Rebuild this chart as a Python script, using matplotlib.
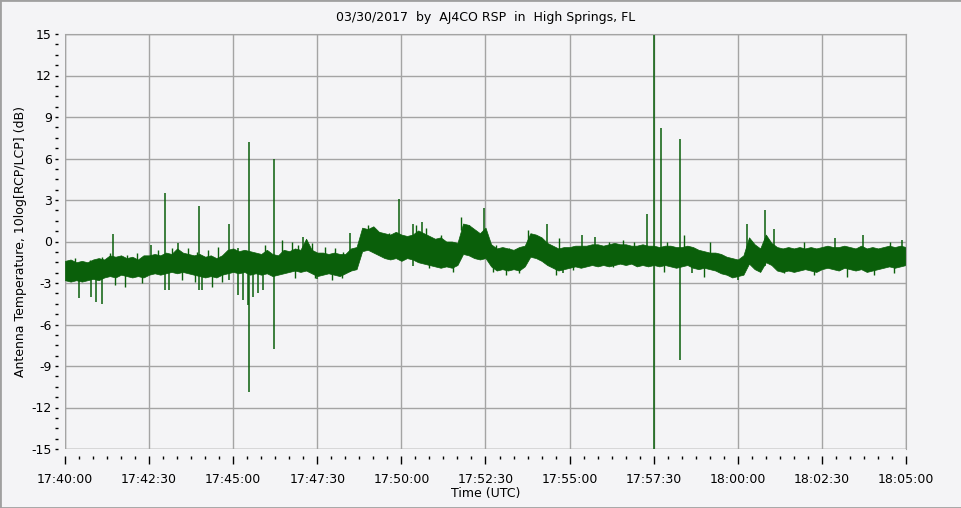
import numpy as np
import matplotlib
matplotlib.use("Agg")
import matplotlib.pyplot as plt
from matplotlib.patches import Rectangle
from matplotlib.ticker import MultipleLocator

plt.rcParams['axes.unicode_minus'] = False
plt.rcParams['font.family'] = 'DejaVu Sans'

# seconds after 17:40:00 UTC, one envelope sample every 10 s
t_env = np.arange(0, 1501, 10)

band_hi = [-1.4, -1.3, -1.5, -1.4, -1.5, -1.3, -1.2, -1.3, -1.0, -1.1,
           -1.0, -1.2, -1.1, -1.3, -1.0, -1.0, -0.9, -1.0, -0.8, -0.9,
           -0.5, -0.8, -0.9, -1.0, -0.9, -1.1, -1.0, -1.2, -1.0, -0.6,
           -0.5, -0.7, -0.6, -0.7, -0.8, -0.9, -0.6, -0.9, -1.0, -0.6,
           -0.7, -0.5, -0.6, 0.2, -0.6, -0.8, -0.8, -0.9, -0.8, -0.9,
           -0.9, -0.5, -0.4, 1.0, 0.9, 1.1, 0.7, 0.6, 0.5, 0.7,
           0.5, 0.4, 0.5, 0.8, 0.6, 0.4, 0.2, 0.3, 0.0, 0.0,
           -0.1, 1.3, 1.2, 0.9, 0.6, 1.0, -0.2, -0.5, -0.4, -0.5,
           -0.6, -0.4, -0.3, 0.6, 0.5, 0.3, -0.1, -0.3, -0.5, -0.4,
           -0.4, -0.3, -0.3, -0.3, -0.2, -0.2, -0.3, -0.2, -0.1, -0.2,
           -0.2, -0.3, -0.3, -0.2, -0.3, -0.3, -0.4, -0.3, -0.3, -0.4,
           -0.4, -0.3, -0.4, -0.6, -0.7, -0.8, -0.8, -0.9, -1.1, -1.2,
           -1.3, -1.0, 0.3, -0.2, -0.5, 0.5, -0.1, -0.4, -0.5, -0.4,
           -0.5, -0.4, -0.5, -0.4, -0.5, -0.4, -0.3, -0.4, -0.4, -0.3,
           -0.4, -0.5, -0.3, -0.5, -0.4, -0.5, -0.4, -0.3, -0.4, -0.3,
           -0.4]

band_lo = [-2.8, -2.9, -2.8, -2.9, -2.8, -2.7, -2.8, -2.6, -2.5, -2.6,
           -2.4, -2.5, -2.6, -2.5, -2.6, -2.4, -2.3, -2.4, -2.3, -2.2,
           -2.3, -2.2, -2.3, -2.4, -2.5, -2.6, -2.5, -2.6, -2.4, -2.3,
           -2.2, -2.3, -2.2, -2.4, -2.3, -2.4, -2.3, -2.5, -2.4, -2.3,
           -2.2, -2.1, -2.2, -2.1, -2.3, -2.5, -2.4, -2.3, -2.4, -2.5,
           -2.3, -2.1, -2.0, -0.7, -0.6, -0.8, -1.0, -1.2, -1.3, -1.2,
           -1.4, -1.2, -1.3, -1.5, -1.6, -1.7, -1.8, -1.9, -1.8, -1.9,
           -1.7, -0.9, -1.0, -1.2, -1.3, -1.2, -1.8, -2.1, -2.0, -2.1,
           -2.0, -2.1, -1.8, -1.1, -1.2, -1.4, -1.7, -1.9, -2.1, -2.0,
           -1.9, -1.8, -1.9, -1.8, -1.7, -1.8, -1.7, -1.8, -1.7, -1.6,
           -1.7, -1.6, -1.8, -1.7, -1.8, -1.7, -1.8, -1.7, -1.8, -1.9,
           -1.8, -1.7, -1.9, -2.0, -1.9, -2.0, -2.1, -2.3, -2.4, -2.6,
           -2.5, -2.4, -1.6, -2.0, -2.2, -1.5, -1.7, -2.1, -2.2, -2.1,
           -2.2, -2.1, -2.0, -2.1, -2.2, -2.0, -1.9, -2.0, -2.1, -1.9,
           -2.0, -2.1, -2.0, -2.2, -2.1, -2.0, -1.9, -1.8, -1.9, -1.8,
           -1.7]

# single-sample spikes: time (s), top (dB), bottom (dB)
spike_t = [25.5, 45.8, 55.3, 65.4, 85, 152.8, 178.5, 186, 202, 239.7,
           243.8, 293, 309, 318, 327, 328.7, 336, 345, 354, 372.8,
           425, 449, 508, 595, 621, 636, 748, 860, 888, 921.5,
           945, 1038, 1050.5, 1063, 1097, 1118, 1201, 1217, 1248.7, 1265,
           1373, 1422.6, 1492]
spike_hi = [-1.6, -1.6, -1.6, -1.6, 0.54, -0.25, 3.5, -1.5, -0.1, 2.57,
            -1.5, 1.27, -0.5, -1.4, -1.4, 7.17, -1.4, -1.4, -1.4, 5.94,
            0.35, -1.5, 0.6, 3.05, 1.3, 1.43, 2.4, 1.3, -1.2, 0.5,
            0.35, 2.0, 15.0, 8.2, 7.4, -1.0, -1.5, 1.3, 2.3, 0.9,
            0.23, 0.5, 0.1]
spike_lo = [-4.1, -4.0, -4.4, -4.5, -2.5, -2.0, -3.5, -3.5, -2.0, -3.5,
            -3.5, -2.8, -3.9, -4.2, -4.6, -10.9, -4.0, -3.7, -3.5, -7.8,
            -2.0, -2.7, -2.2, -1.0, -1.8, -1.0, -1.3, -1.5, -2.3, -1.5,
            -1.5, -1.5, -15.0, -1.5, -8.6, -2.3, -2.8, -1.5, -1.8, -1.8,
            -1.8, -1.8, -1.8]

# smaller noise teeth along the band edges
tooth_t = [17.8, 44.6, 65.4, 80.3, 110, 127.8, 166.5, 190.2, 220, 234.8,
           255.6, 273.5, 356.7, 386.4, 404.3, 416.2, 440, 463.7, 481.5, 496.4,
           539.8, 560.7, 578.5, 626, 643.9, 670.6, 706.3, 721.2, 768.7, 792.5,
           825.2, 881.7, 970.8, 994.6, 1014.2, 1073.6, 1103.4, 1150.9, 1317.4,
           1472,
           89.2, 107, 136.7, 208, 231.9, 261.6, 279.4, 410.2, 445.9, 475.6,
           493.4, 519, 649.8, 691.4, 762.8, 786.6, 810.3, 875.7, 905.5, 976.8,
           1067.7, 1139, 1281.7, 1335.2, 1394.7, 1442.2, 1477.9]
tooth_hi = [-1.22, -1.34, -1.1, -0.86, -0.98, -0.86, -0.61, -0.5, -0.5, -0.73,
            -0.61, -0.37, -0.25, 0.11, -0.01, -0.25, -0.13, -0.37, -0.5, -0.73,
            1.19, 0.71, 0.59, 1.19, 0.95, 0.47, 1.8, 1.19, -0.25, -0.49,
            0.83, 0.23, 0.0, 0.11, -0.01, -0.01, 0.47, -0.01, -0.01,
            -0.01,
            -2.15, -2.27, -2.03, -1.78, -1.9, -2.27, -1.9, -1.66, -1.66, -1.78,
            -1.66, -0.94, -0.94, -1.18, -1.18, -1.42, -1.3, -1.42, -1.06, -0.82,
            -1.18, -1.54, -1.3, -1.42, -1.54, -1.42, -1.3]
tooth_lo = [-2.2, -2.3, -2.1, -1.9, -2.0, -1.9, -1.6, -1.5, -1.5, -1.7,
            -1.6, -1.4, -1.3, -0.9, -1.0, -1.3, -1.1, -1.4, -1.5, -1.7,
            0.2, -0.3, -0.4, 0.2, 0.0, -0.5, 0.8, 0.2, -1.2, -1.5,
            -0.2, -0.8, -1.0, -0.9, -1.0, -1.0, -0.5, -1.0, -1.0,
            -1.0,
            -3.15, -3.27, -3.03, -2.78, -2.9, -3.27, -2.9, -2.66, -2.66, -2.78,
            -2.66, -1.94, -1.94, -2.18, -2.18, -2.42, -2.3, -2.42, -2.06, -1.82,
            -2.18, -2.54, -2.3, -2.42, -2.54, -2.42, -2.3]

x_ticks = np.arange(0, 1501, 150)
x_tick_labels = ['17:40:00', '17:42:30', '17:45:00', '17:47:30', '17:50:00',
                 '17:52:30', '17:55:00', '17:57:30', '18:00:00', '18:02:30',
                 '18:05:00']
y_ticks = np.arange(-15, 16, 3)

bg = '#f4f4f6'
grid_c = '#a4a4a4'
green = '#0a5f0a'

fig = plt.figure(figsize=(9.62, 5.08), dpi=100, facecolor=bg)
fig.patches.append(Rectangle((0, 0), 1, 1, transform=fig.transFigure,
                             fill=False, edgecolor='#a0a0a0', lw=2))
ax = fig.add_axes([65 / 962, 59 / 508, 841 / 962, 415 / 508])
ax.set_facecolor(bg)

ax.fill_between(t_env, band_lo, band_hi, color=green, lw=0.5,
                edgecolor=green)
ax.vlines(tooth_t, tooth_lo, tooth_hi, color=green, lw=1.0)
ax.vlines(spike_t, spike_lo, spike_hi, color=green, lw=1.1)

ax.set_xlim(0, 1500)
ax.set_ylim(-15, 15)
ax.set_xticks(x_ticks)
ax.set_xticklabels(x_tick_labels)
ax.set_yticks(y_ticks)
ax.set_yticklabels([str(v) for v in y_ticks])
ax.xaxis.set_minor_locator(MultipleLocator(25))
ax.yaxis.set_minor_locator(MultipleLocator(0.75))
ax.grid(True, which='major', color=grid_c, lw=1)
ax.set_axisbelow(True)

for s in ['top', 'right']:
    ax.spines[s].set_color(grid_c)
for s in ['left', 'bottom']:
    ax.spines[s].set_position(('outward', 5))
    ax.spines[s].set_visible(False)
ax.add_patch(Rectangle((0, 0), 1, 1, transform=ax.transAxes, fill=False,
                       edgecolor=grid_c, lw=1, zorder=0.5))

ax.tick_params(axis='x', which='major', length=6, width=1, pad=6,
               labelsize=9, colors='black')
ax.tick_params(axis='x', which='minor', length=2.5, width=1)
ax.tick_params(axis='y', which='both', length=2.5, width=1, pad=2,
               labelsize=9)

ax.set_title('03/30/2017  by  AJ4CO RSP  in  High Springs, FL',
             fontsize=9, pad=9)
ax.set_xlabel('Time (UTC)', fontsize=9, labelpad=1)
ax.set_ylabel('Antenna Temperature, 10log[RCP/LCP] (dB)', fontsize=9,
              labelpad=3)

fig.savefig('out.png', dpi=100, facecolor=bg)
